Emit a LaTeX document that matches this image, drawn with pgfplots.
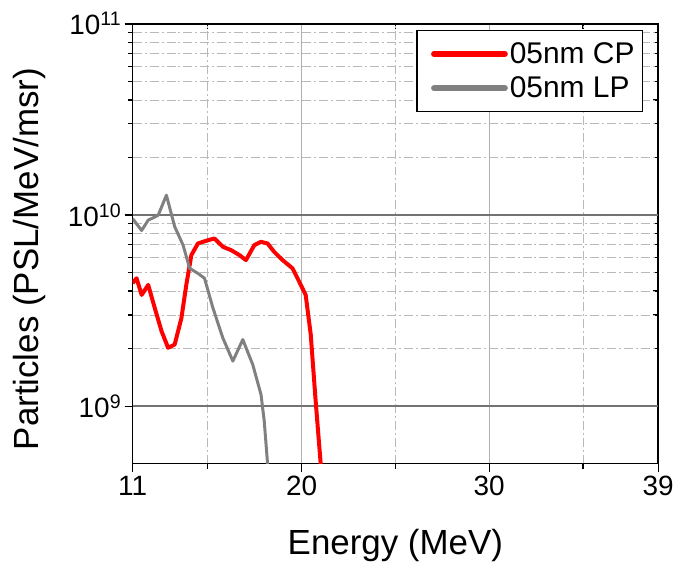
\documentclass[border=0pt]{standalone}
\usepackage{fontspec}
\setmainfont{Liberation Sans}
\usepackage{pgfplots}
\pgfplotsset{compat=1.18}
\definecolor{cpred}{RGB}{255,0,0}
\definecolor{lpgray}{RGB}{128,128,128}
\definecolor{gridx}{RGB}{175,175,175}
\definecolor{gridy}{RGB}{115,115,115}
\definecolor{gridmin}{RGB}{185,185,185}

\pgfplotsset{
  frame/.style={
    scale only axis, width=527pt, height=441pt,
    xmin=11, xmax=39, ymin=5e8, ymax=1e11,
    xtick={11,20,30,39},
    minor xtick={15,25,35},
    ytick={1e9,1e10,1e11},
    minor ytick={2e9,3e9,4e9,5e9,6e9,7e9,8e9,9e9,2e10,3e10,4e10,5e10,6e10,7e10,8e10,9e10},
    major tick length=8pt, minor tick length=5pt,
    every tick/.style={black, line width=1.2pt},
    axis line style={black, line width=1.6pt},
  },
}

\begin{document}
\begin{tikzpicture}
% inward ticks on the top and right edges
\begin{semilogyaxis}[
  frame,
  tick pos=right, tick align=inside,
  xticklabels={}, yticklabels={},
]
\end{semilogyaxis}
\begin{semilogyaxis}[
  frame,
  yticklabels={10\textsuperscript{9},10\textsuperscript{10},10\textsuperscript{11}},
  xmajorgrids, xminorgrids, yminorgrids,
  major grid style={gridx, line width=1pt},
  minor grid style={gridmin, line width=0.9pt, dash pattern=on 9pt off 3pt on 2pt off 3pt},
  extra y ticks={1e9,1e10},
  extra y tick labels={},
  extra y tick style={grid=major, major grid style={gridy, line width=1.4pt}},
  tick pos=left, tick align=outside,
  tick label style={font=\fontsize{28}{32}\selectfont},
  xticklabel style={yshift=-1pt},
  /pgf/number format/assume math mode=true,
  xlabel={Energy (MeV)},
  ylabel={Particles (PSL/MeV/msr)},
  xlabel style={at={(axis description cs:0.5,-0.186)}, anchor=center},
  ylabel style={at={(axis description cs:-0.197,0.465)}, anchor=center},
  label style={font=\fontsize{35}{40}\selectfont},
  legend style={at={(rel axis cs:0.9715,0.986)}, anchor=north east,
    draw=black, line width=1.3pt, font=\fontsize{30}{35}\selectfont,
    inner xsep=6pt, inner ysep=10pt, row sep=8pt},
  legend cell align=left,
  legend image code/.code={%
    \path (0pt,0pt);
    \draw[#1, line width=6pt, line cap=round] (9pt,0pt) -- (80pt,0pt);},
]
% 05nm CP spectrum
\addplot[cpred, line width=4pt, line join=round] coordinates {
(11.00,4.40e9) (11.21,4.67e9) (11.48,3.82e9) (11.83,4.31e9) (12.18,3.26e9)
(12.54,2.47e9) (12.89,2.02e9) (13.24,2.10e9) (13.60,2.89e9) (13.86,4.31e9)
(14.13,6.17e9) (14.48,7.10e9) (15.01,7.38e9) (15.36,7.54e9) (15.81,6.82e9)
(16.25,6.55e9) (16.69,6.17e9) (17.04,5.81e9) (17.48,6.95e9) (17.84,7.24e9)
(18.19,7.10e9) (18.54,6.42e9) (18.99,5.81e9) (19.52,5.26e9) (19.87,4.49e9)
(20.22,3.82e9) (20.49,2.37e9) (20.75,1.07e9) (21.02,5.00e8) (21.06,4.50e8)
};
\addlegendentry{05nm CP}
% 05nm LP spectrum
\addplot[lpgray, line width=3pt, line join=round] coordinates {
(11.00,9.58e9) (11.48,8.30e9) (11.83,9.40e9) (12.36,9.96e9) (12.80,1.27e10)
(13.24,8.70e9) (13.69,6.95e9) (14.04,5.26e9) (14.48,4.95e9) (14.83,4.67e9)
(15.28,3.26e9) (15.81,2.27e9) (16.34,1.72e9) (16.87,2.23e9) (17.40,1.65e9)
(17.84,1.15e9) (18.01,8.40e8) (18.19,5.00e8) (18.21,4.50e8)
};
\addlegendentry{05nm LP}
\end{semilogyaxis}
% page margins around the plot
\path ([xshift=-133pt,yshift=-100pt]current axis.south west)
  rectangle ([xshift=17pt,yshift=24pt]current axis.north east);
\end{tikzpicture}
\end{document}
